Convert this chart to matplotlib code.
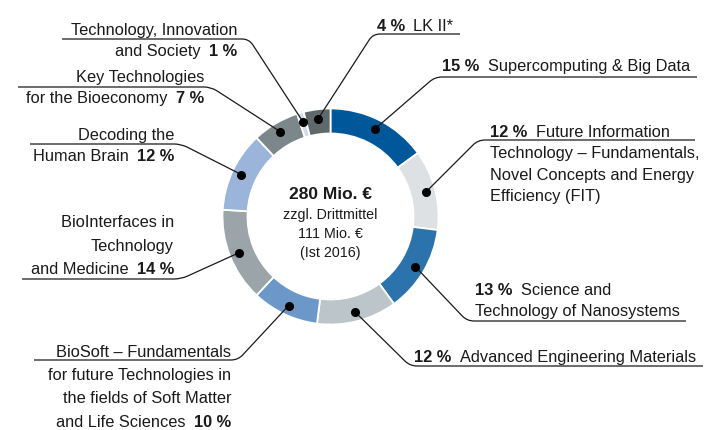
import matplotlib
matplotlib.use("Agg")
import matplotlib.pyplot as plt
from matplotlib.path import Path
from matplotlib.patches import PathPatch
import numpy as np

plt.rcParams['font.family'] = ['Liberation Sans', 'DejaVu Sans']

# data, clockwise from 12 o'clock
programmes = ['Supercomputing & Big Data', 'FIT', 'Nanosystems',
              'Advanced Engineering Materials', 'BioSoft', 'BioInterfaces',
              'Human Brain', 'Bioeconomy', 'Technology, Innovation and Society',
              'LK II']
shares = [15, 12, 13, 12, 10, 14, 12, 7, 1, 4]
colors = ['#00589b', '#dde1e4', '#2a73ad', '#bcc5ca', '#6b97c9',
          '#9aa4a9', '#9bb4da', '#7b878b', '#d3dcee', '#5f696c']
pct_labels = [f'{v} %' for v in shares]
label_lines = [
    ['Supercomputing & Big Data'],
    ['Future Information', 'Technology – Fundamentals,',
     'Novel Concepts and Energy', 'Efficiency (FIT)'],
    ['Science and', 'Technology of Nanosystems'],
    ['Advanced Engineering Materials'],
    ['BioSoft – Fundamentals', 'for future Technologies in',
     'the fields of Soft Matter', 'and Life Sciences'],
    ['BioInterfaces in', 'Technology', 'and Medicine'],
    ['Decoding the', 'Human Brain'],
    ['Key Technologies', 'for the Bioeconomy'],
    ['Technology, Innovation', 'and Society'],
    ['LK II*'],
]
center_lines = ['280 Mio. €', 'zzgl. Drittmittel', '111 Mio. €', '(Ist 2016)']

# layout (pixel coordinates, y downward)
cx, cy, r_out, ring, r_dot = 330.5, 217.5, 108, 25, 98.5
# side, text x, baselines, underline y, underline x (inner end, outer end)
layout = [
    ('L', 442, [71], 78, (435, 697)),
    ('L', 490, [137, 158, 180, 201], 141, (478, 695)),
    ('L', 475, [295, 316], 322, (467, 686)),
    ('L', 414, [362], 367, (410, 703)),
    ('R', 231, [357, 380, 403, 427], 361, (238, 34)),
    ('R', 174, [227, 251, 274], 280, (181, 22)),
    ('R', 174, [140, 161], 145, (181, 30)),
    ('R', 204, [82, 103], 88, (211, 18)),
    ('R', 237, [35, 56], 40, (249, 62)),
    ('L', 377, [31], 35, (373, 460)),
]
fs = 11.8
ink = '#1a1a1a'

fig = plt.figure(figsize=(7.05, 4.31), dpi=100)
ax = fig.add_axes([0, 0, 1, 1])
ax.pie(shares, colors=colors, startangle=-90, counterclock=True,
       radius=r_out, center=(cx, cy),
       wedgeprops=dict(width=ring, edgecolor='white', linewidth=1.3))
ax.set_xlim(0, 705)
ax.set_ylim(431, 0)
ax.set_aspect('equal')
ax.axis('off')


def leader(p0, corner, p2, rad=7):
    c = np.array(corner, float)
    a = c + (np.array(p0) - c) / np.hypot(*(np.array(p0) - c)) * rad
    b = c + (np.array(p2) - c) / np.hypot(*(np.array(p2) - c)) * rad
    verts = [p0, tuple(a), tuple(c), tuple(b), p2]
    codes = [Path.MOVETO, Path.LINETO, Path.CURVE3, Path.CURVE3, Path.LINETO]
    ax.add_patch(PathPatch(Path(verts, codes), fill=False, lw=0.9,
                           edgecolor=ink, zorder=3))


cum = 0
for i, v in enumerate(shares):
    th = np.deg2rad(-90 + (cum + v / 2) * 3.6)
    cum += v
    dot = (cx + r_dot * np.cos(th), cy + r_dot * np.sin(th))
    side, tx, bases, uy, (ux0, ux1) = layout[i]
    leader(dot, (ux0, uy), (ux1, uy))
    ax.plot(*dot, 'o', color='black', ms=5.5, zorder=4)
    lines = label_lines[i]
    for j, (s, y) in enumerate(zip(lines, bases)):
        if side == 'L':
            if j == 0:
                b = ax.text(tx, y, pct_labels[i], fontsize=fs, weight='bold',
                            ha='left', va='baseline', color=ink)
                ax.annotate(s, xy=(1, 0), xycoords=b, xytext=(6, 0),
                            textcoords='offset points', ha='left', va='bottom',
                            fontsize=fs, color=ink)
            else:
                ax.text(tx, y, s, fontsize=fs, ha='left', va='baseline', color=ink)
        else:
            if j == len(lines) - 1:
                b = ax.text(tx, y, pct_labels[i], fontsize=fs, weight='bold',
                            ha='right', va='baseline', color=ink)
                ax.annotate(s, xy=(0, 0), xycoords=b, xytext=(-6, 0),
                            textcoords='offset points', ha='right', va='bottom',
                            fontsize=fs, color=ink)
            else:
                ax.text(tx, y, s, fontsize=fs, ha='right', va='baseline', color=ink)

ax.text(cx, 199, center_lines[0], fontsize=12.5, weight='bold', ha='center',
        va='baseline', color=ink)
for s, y in zip(center_lines[1:], [219, 238, 257]):
    ax.text(cx, y, s, fontsize=10.3, ha='center', va='baseline', color=ink)

fig.savefig('out.png', dpi=100)
